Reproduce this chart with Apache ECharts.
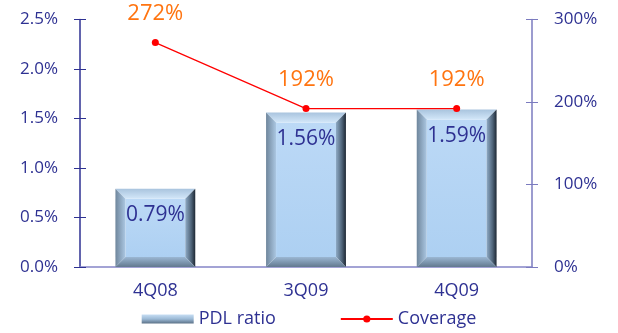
<!DOCTYPE html>
<html>
<head>
<meta charset="utf-8">
<script src="https://cdn.jsdelivr.net/npm/echarts@6/dist/echarts.min.js"></script>
<style>
  html, body { margin: 0; padding: 0; background: #fff; }
  #chart { width: 618px; height: 333px; }
</style>
</head>
<body>
<div id="chart"></div>
<script>
// Quarterly past-due-loan ratio and coverage
const categories = ['4Q08', '3Q09', '4Q09'];
const pdlRatio = [0.79, 1.56, 1.59];      // %
const coverage = [272, 192, 192];          // %
const leftTicks = [0, 0.5, 1.0, 1.5, 2.0, 2.5];
const rightTicks = [0, 100, 200, 300];

const FONT = '"Open Sans", "DejaVu Sans", sans-serif';
const NAVY = '#2e3192';
const LG = echarts.graphic.LinearGradient;

// Bevelled bar: a flat face framed by four sloped edges
function renderBevelBar(params, api) {
  const cat = api.value(0);
  const val = api.value(1);
  const top = api.coord([cat, val]);
  const base = api.coord([cat, 0]);
  const w = api.size([1, 0])[0] * 0.53;
  const x0 = top[0] - w / 2, x1 = top[0] + w / 2;
  const y0 = top[1], y1 = base[1];
  const b = Math.min(10, (y1 - y0) / 2);
  const poly = (pts, fill) => ({ type: 'polygon', shape: { points: pts }, style: { fill: fill } });
  return {
    type: 'group',
    children: [
      poly([[x0 + b, y0 + b], [x1 - b, y0 + b], [x1 - b, y1 - b], [x0 + b, y1 - b]],
        new LG(0, 0, 0, 1, [{ offset: 0, color: '#bcd9f6' }, { offset: 1, color: '#add0f2' }])),
      poly([[x0, y0], [x1, y0], [x1 - b, y0 + b], [x0 + b, y0 + b]],
        new LG(0, 0, 0, 1, [{ offset: 0, color: '#a9c4de' }, { offset: 1, color: '#d3e7f9' }])),
      poly([[x0, y0], [x0 + b, y0 + b], [x0 + b, y1 - b], [x0, y1]],
        new LG(0, 0, 1, 0, [{ offset: 0, color: '#6f869c' }, { offset: 1, color: '#abc7e2' }])),
      poly([[x1, y0], [x1, y1], [x1 - b, y1 - b], [x1 - b, y0 + b]],
        new LG(0, 0, 1, 0, [{ offset: 0, color: '#8fabc6' }, { offset: 0.6, color: '#4f6479' }, { offset: 1, color: '#1d2733' }])),
      poly([[x0, y1], [x1, y1], [x1 - b, y1 - b], [x0 + b, y1 - b]],
        new LG(0, 0, 0, 1, [{ offset: 0, color: '#9bb7d3' }, { offset: 1, color: '#62798f' }])),
      {
        type: 'text',
        style: {
          text: val.toFixed(2) + '%',
          x: top[0], y: y0 + 26,
          align: 'center', verticalAlign: 'middle',
          fill: NAVY, font: '21px ' + FONT
        }
      }
    ]
  };
}

// Value axis pair: one carries line, labels and outer ticks, the other adds inner ticks
function valueAxes(min, max, step, pos, color, fmt) {
  return [
    {
      type: 'value', min: min, max: max, interval: step, position: pos,
      axisLine: { show: true, lineStyle: { color: color, width: 1.5 } },
      axisTick: { show: true, length: 6, lineStyle: { color: color } },
      splitLine: { show: false },
      axisLabel: { color: NAVY, fontSize: 17, fontFamily: FONT, margin: 22, formatter: fmt }
    },
    {
      type: 'value', min: min, max: max, interval: step, position: pos,
      axisLine: { show: false },
      axisTick: { show: true, inside: true, length: 6, lineStyle: { color: color } },
      splitLine: { show: false },
      axisLabel: { show: false }
    }
  ];
}

const leftAxes = valueAxes(0, 2.5, 0.5, 'left', NAVY,
  v => (leftTicks.includes(v) ? v.toFixed(1) + '%' : ''));
const rightAxes = valueAxes(0, 300, 100, 'right', '#7b7bbf',
  v => (rightTicks.includes(v) ? v + '%' : ''));

const chart = echarts.init(document.getElementById('chart'));
chart.setOption({
  animation: false,
  backgroundColor: '#fff',
  grid: { left: 80, right: 86, top: 19.5, bottom: 66 },
  legend: {
    bottom: 0,
    left: 'center',
    itemGap: 64,
    itemWidth: 52,
    itemHeight: 9,
    textStyle: { color: NAVY, fontSize: 18, fontFamily: FONT },
    data: [
      { name: 'PDL ratio', icon: 'rect',
        itemStyle: { color: new LG(0, 0, 0, 1, [{ offset: 0, color: '#c7def4' }, { offset: 0.5, color: '#9cbad6' }, { offset: 1, color: '#5b7187' }]) } },
      { name: 'Coverage' }
    ]
  },
  xAxis: {
    type: 'category',
    data: categories,
    axisLine: { lineStyle: { color: '#8585c8', width: 1.5 } },
    axisTick: { show: false },
    axisLabel: { color: NAVY, fontSize: 18, fontFamily: FONT, margin: 15 }
  },
  yAxis: [leftAxes[0], rightAxes[0], leftAxes[1], rightAxes[1]],
  series: [
    {
      name: 'PDL ratio',
      type: 'custom',
      yAxisIndex: 0,
      renderItem: renderBevelBar,
      encode: { x: 0, y: 1 },
      data: pdlRatio.map((v, i) => [i, v]),
      itemStyle: { color: '#9cbad6' },
      z: 2
    },
    {
      name: 'Coverage',
      type: 'line',
      yAxisIndex: 1,
      data: coverage,
      color: '#ff0000',
      lineStyle: { color: '#ff0000', width: 1.2 },
      symbol: 'circle',
      symbolSize: 7,
      itemStyle: { color: '#ff0000' },
      label: {
        show: true, position: 'top', distance: 14,
        color: '#ff7410', fontSize: 22, fontFamily: FONT,
        formatter: p => p.value + '%'
      },
      z: 5
    }
  ]
});
</script>
</body>
</html>
